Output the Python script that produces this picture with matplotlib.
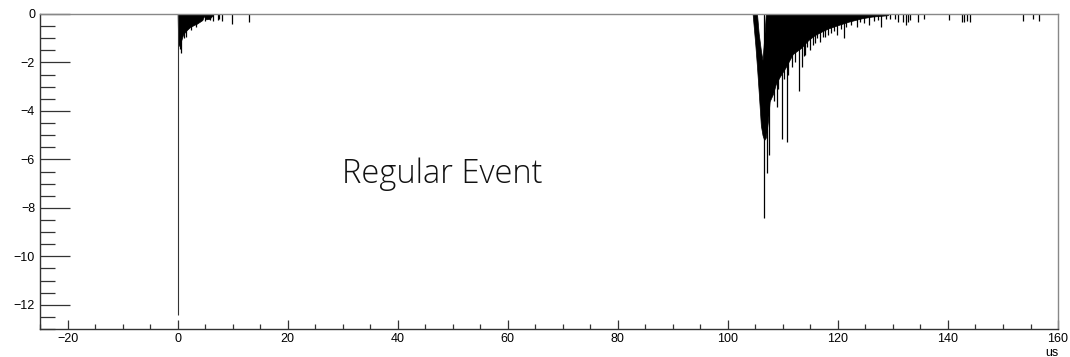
import matplotlib.pyplot as plt
from matplotlib.ticker import MultipleLocator

# prompt pulse envelope (us, amplitude)
prompt_t = [0.0, 0.1, 0.5, 1.0, 1.5, 2.2, 3.0, 3.5, 4.5, 4.8, 5.2, 5.8, 6.4]
prompt_lo = [0.0, -1.35, -1.2, -0.85, -0.7, -0.55, -0.45, -0.4, -0.25, -0.08, -0.22, -0.2, -0.05]

# individual samples sticking out of the prompt pulse
prompt_spk_t = [0.0, 0.35, 0.67, 1.2, 1.6, 2.5, 3.3, 4.9, 5.8, 6.4, 7.3, 7.6, 8.0, 9.9, 13.0]
prompt_spk_v = [-12.42, -1.45, -1.62, -1.0, -0.95, -0.65, -0.55, -0.3, -0.25, -0.28, -0.25, -0.22, -0.3, -0.42, -0.33]

# delayed pulse train envelope
late_t = [104.5, 105.0, 105.3, 105.6, 106.0, 106.3, 106.6, 106.9, 107.3, 107.6, 108.2, 108.7,
          109.4, 110.5, 111.8, 113.3, 114.6, 115.8, 117.0, 118.2, 120.0, 121.9, 124.3, 126.1, 129.1]
late_lo = [0.0, -1.3, -2.2, -3.2, -4.6, -5.0, -5.2, -5.1, -4.4, -3.6, -3.3, -2.9,
           -2.6, -2.2, -1.65, -1.4, -1.08, -0.87, -0.73, -0.6, -0.46, -0.32, -0.18, -0.11, -0.05]
late_hi = [0.0, 0.0, 0.0, -0.8, -1.5, -1.9, -1.0, 0.0, 0.0, 0.0, 0.0, 0.0,
           0.0, 0.0, 0.0, 0.0, 0.0, 0.0, 0.0, 0.0, 0.0, 0.0, 0.0, 0.0, 0.0]

late_spk_t = [106.5, 107.2, 107.5, 108.3, 108.9, 109.2, 109.9, 110.2, 110.7, 111.0, 111.6, 112.2,
              112.9, 113.4, 113.8, 114.0, 114.3, 114.9, 115.5, 115.8, 116.2, 116.7, 117.2, 117.6,
              118.2, 118.8, 119.3, 119.8, 120.5, 121.1, 121.5, 122.4, 123.4, 124.0, 124.8, 125.6,
              126.5, 127.2, 127.9, 128.8, 129.5, 130.3, 131.0, 131.9, 132.4, 132.8, 133.1, 134.6,
              135.6, 140.2, 142.5, 142.9, 143.4, 144.0, 153.7, 155.5, 156.6]
late_spk_v = [-8.42, -6.55, -5.8, -3.6, -3.85, -3.1, -5.16, -2.7, -5.3, -2.5, -2.19, -2.0,
              -3.16, -2.19, -1.75, -1.7, -1.36, -1.5, -1.29, -1.2, -1.0, -1.15, -0.95, -0.93,
              -0.87, -0.8, -0.7, -0.87, -0.6, -1.01, -0.55, -0.45, -0.53, -0.35, -0.38, -0.46,
              -0.3, -0.25, -0.53, -0.2, -0.2, -0.22, -0.32, -0.32, -0.46, -0.32, -0.25, -0.35,
              -0.21, -0.25, -0.32, -0.32, -0.28, -0.32, -0.28, -0.2, -0.28]

fig = plt.figure(figsize=(10.7, 3.57), dpi=100)
ax = fig.add_axes([0.0374, 0.0784, 0.9514, 0.8824])

ax.fill_between(prompt_t, prompt_lo, 0, color='black', linewidth=0.5)
ax.vlines(prompt_spk_t[:1], prompt_spk_v[:1], 0, color='#333333', linewidth=0.8)
ax.vlines(prompt_spk_t[1:], prompt_spk_v[1:], 0, color='black', linewidth=0.9)

ax.fill_between(late_t, late_lo, late_hi, color='black', linewidth=0.5)
ax.vlines(late_spk_t, late_spk_v, 0, color='black', linewidth=0.9)

ax.text(29.8, -6.98, 'Regular Event', fontsize=23.5, family=['Open Sans', 'DejaVu Sans'],
        fontweight='light', color='#111111', va='baseline', ha='left')

ax.set_xlim(-25, 160)
ax.set_ylim(-13, 0)

ax.xaxis.set_major_locator(MultipleLocator(20))
ax.xaxis.set_minor_locator(MultipleLocator(5))
ax.yaxis.set_major_locator(MultipleLocator(2))
ax.yaxis.set_minor_locator(MultipleLocator(0.5))

ax.tick_params(axis='y', which='major', direction='in', length=21.6, width=0.9, color='#333333',
               pad=3.6, labelsize=9)
ax.tick_params(axis='y', which='minor', direction='in', length=10.8, width=0.9, color='#333333')
ax.tick_params(axis='x', which='major', direction='in', length=6.8, width=0.9, color='#333333',
               pad=3.0, labelsize=9)
ax.tick_params(axis='x', which='minor', direction='in', length=3.6, width=0.9, color='#333333')

for lab in ax.get_xticklabels() + ax.get_yticklabels():
    lab.set_family('Liberation Sans')

ax.set_xlabel('us', loc='right', fontsize=9, family='Liberation Sans', labelpad=1)

for side in ['left', 'bottom']:
    ax.spines[side].set_color('#333333')
    ax.spines[side].set_linewidth(1.0)
for side in ['top', 'right']:
    ax.spines[side].set_color('#888888')
    ax.spines[side].set_linewidth(1.0)

fig.savefig('out.png', dpi=100)
